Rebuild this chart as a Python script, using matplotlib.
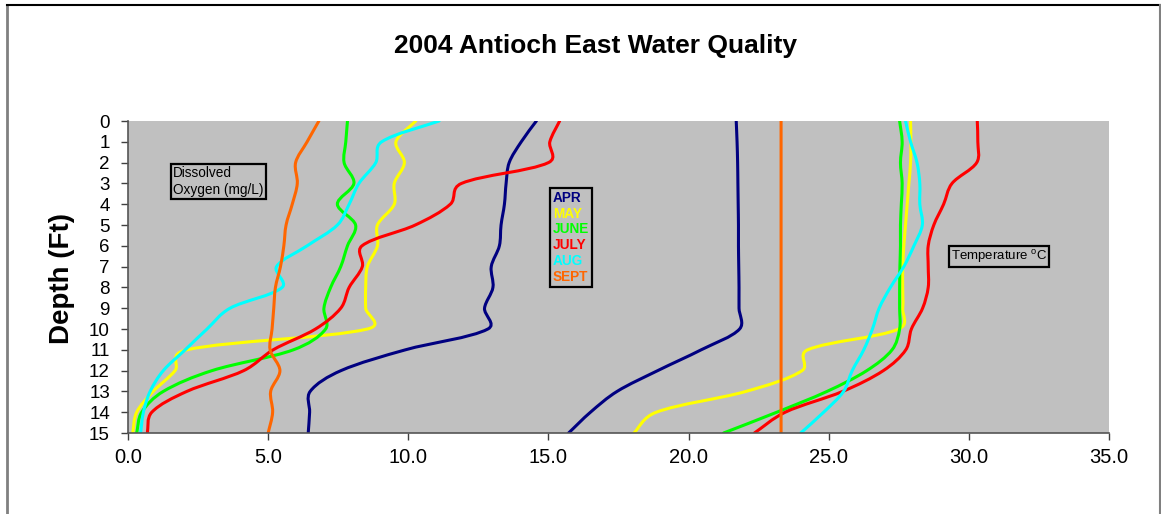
import numpy as np
import matplotlib
matplotlib.use("Agg")
import matplotlib.pyplot as plt
from matplotlib.path import Path
from matplotlib.patches import PathPatch
from matplotlib.lines import Line2D

plt.rcParams['font.family'] = ['Liberation Sans', 'DejaVu Sans']
plt.rcParams['mathtext.fontset'] = 'custom'
plt.rcParams['mathtext.rm'] = 'Liberation Sans'

# ---------------- data ----------------
depth = [0, 1, 2, 3, 4, 5, 6, 7, 8, 9, 10, 11, 12, 13, 14, 15]
months = ["APR", "MAY", "JUNE", "JULY", "AUG", "SEPT"]
colors = ["#000080", "#FFFF00", "#00FF00", "#FF0000", "#00FFFF", "#FF6600"]

do_apr  = [14.57, 14.03, 13.6, 13.49, 13.43, 13.31, 13.25, 12.96, 13.02, 12.72, 12.84, 9.9, 7.6, 6.5, 6.48, 6.43]
do_may  = [10.27, 9.56, 9.86, 9.5, 9.5, 8.9, 8.9, 8.54, 8.48, 8.48, 8.54, 2.1, 1.68, 0.9, 0.31, 0.17]
do_june = [7.83, 7.77, 7.71, 8.06, 7.47, 8.12, 7.83, 7.59, 7.23, 6.99, 7.05, 5.9, 3.0, 1.26, 0.49, 0.31]
do_july = [15.4, 15.05, 15.0, 11.9, 11.5, 10.25, 8.35, 8.36, 7.89, 7.59, 6.69, 5.18, 4.13, 2.1, 0.85, 0.69]
do_aug  = [11.1, 9.05, 8.84, 8.24, 7.89, 7.47, 6.39, 5.3, 5.5, 3.64, 2.82, 2.04, 1.26, 0.79, 0.55, 0.45]
do_sept = [6.81, 6.39, 5.98, 6.04, 5.86, 5.64, 5.56, 5.44, 5.26, 5.2, 5.14, 5.07, 5.42, 5.09, 5.16, 5.0]

t_apr  = [21.7, 21.73, 21.75, 21.76, 21.77, 21.78, 21.78, 21.79, 21.8, 21.8, 21.82, 20.45, 18.9, 17.45, 16.5, 15.72]
t_may  = [27.92, 27.93, 27.92, 27.86, 27.8, 27.74, 27.68, 27.64, 27.64, 27.64, 27.5, 24.25, 24.05, 22.05, 18.85, 18.05]
t_june = [27.53, 27.62, 27.56, 27.62, 27.59, 27.56, 27.56, 27.54, 27.53, 27.53, 27.53, 27.26, 26.36, 24.94, 23.15, 21.25]
t_july = [30.3, 30.32, 30.28, 29.4, 29.1, 28.75, 28.55, 28.55, 28.55, 28.35, 27.95, 27.75, 26.95, 25.5, 23.45, 22.35]
t_aug  = [27.74, 27.92, 28.15, 28.25, 28.25, 28.34, 28.04, 27.68, 27.2, 26.8, 26.56, 26.25, 25.84, 25.53, 24.82, 24.0]
t_sept = [23.3] * 16

do_series = [do_apr, do_may, do_june, do_july, do_aug, do_sept]
t_series = [t_apr, t_may, t_june, t_july, t_aug, t_sept]

x_ticks = [0, 5, 10, 15, 20, 25, 30, 35]
y_ticks = depth

# approximate screen scale (px per data unit) used for smoothing tangents
SX, SY = 28.0, 20.8


def smooth_path(xs, ys):
    """Smoothed line: cubic Bezier, tangents blended between uniform and chord-weighted."""
    pts = np.column_stack([np.asarray(xs, float) * SX, np.asarray(ys, float) * SY])
    n = len(pts)
    seg = np.linalg.norm(np.diff(pts, axis=0), axis=1)
    out_c, in_c = [], []
    for i in range(n):
        prev = pts[i - 1] if i > 0 else pts[i]
        nxt = pts[i + 1] if i < n - 1 else pts[i]
        T = nxt - prev
        d_in = seg[i - 1] if i > 0 else 0.0
        d_out = seg[i] if i < n - 1 else 0.0
        tot = d_in + d_out if (d_in + d_out) > 0 else 1.0
        w_out = 0.5 * (1 / 6.0) + 0.5 * (d_out / tot) / 3.0
        w_in = 0.5 * (1 / 6.0) + 0.5 * (d_in / tot) / 3.0
        out_c.append(pts[i] + T * w_out)
        in_c.append(pts[i] - T * w_in)
    verts = [pts[0]]
    codes = [Path.MOVETO]
    for i in range(n - 1):
        verts += [out_c[i], in_c[i + 1], pts[i + 1]]
        codes += [Path.CURVE4] * 3
    verts = np.array(verts) / np.array([SX, SY])
    return Path(verts, codes)


fig = plt.figure(figsize=(11.61, 5.14), dpi=100)
fig.patch.set_facecolor('white')
ax = fig.add_axes([128 / 1161, 1 - 433 / 514, (1109 - 128) / 1161, (433 - 121) / 514])
ax.set_facecolor('#C0C0C0')

for series, c in zip(do_series, colors):
    ax.add_patch(PathPatch(smooth_path(series, depth), fill=False, edgecolor=c, lw=2.2,
                           capstyle='round', joinstyle='round'))
for series, c in zip(t_series, colors):
    ax.add_patch(PathPatch(smooth_path(series, depth), fill=False, edgecolor=c, lw=2.2,
                           capstyle='round', joinstyle='round'))

ax.set_xlim(0, 35)
ax.set_ylim(15, 0)
ax.set_xticks(x_ticks)
ax.set_xticklabels([f"{v:.1f}" for v in x_ticks])
ax.set_yticks(y_ticks)
ax.set_yticklabels([str(v) for v in y_ticks])
ax.tick_params(axis='x', labelsize=14.5, length=5, width=1, color='#404040', pad=6)
ax.tick_params(axis='y', labelsize=13.5, length=5, width=1, color='#404040', pad=8)
for s in ['top', 'right']:
    ax.spines[s].set_visible(False)
for s in ['left', 'bottom']:
    ax.spines[s].set_color('#555555')
    ax.spines[s].set_linewidth(1.2)

# legend
handles = [Line2D([], [], color=c) for c in colors]
leg = ax.legend(handles, months, loc='upper left', bbox_to_anchor=(0.430, 0.786),
                handlelength=0, handletextpad=0, labelcolor=colors,
                prop={'family': 'Liberation Sans', 'weight': 'bold', 'size': 9.8},
                frameon=True, fancybox=False, edgecolor='black', facecolor='#C0C0C0',
                framealpha=1, borderpad=0.22, labelspacing=0.13, borderaxespad=0)
leg.get_frame().set_linewidth(1.6)

# text boxes
ax.text(0.046, 0.856, "Dissolved\nOxygen (mg/L)", transform=ax.transAxes, fontsize=9.8,
        ha='left', va='top', linespacing=1.3,
        bbox=dict(boxstyle='square,pad=0.15', facecolor='#C0C0C0', edgecolor='black', lw=1.6))
ax.text(0.839, 0.567, "Temperature $^{\\mathrm{o}}$C", transform=ax.transAxes, fontsize=9.5,
        ha='left', va='center',
        bbox=dict(boxstyle='square,pad=0.15', facecolor='#C0C0C0', edgecolor='black', lw=1.6))

fig.text(595 / 1161, 1 - 46 / 514, "2004 Antioch East Water Quality", fontsize=19,
         fontweight='bold', ha='center', va='center')
fig.text(62 / 1161, 1 - 278 / 514, "Depth (Ft)", fontsize=20, fontweight='bold',
         rotation=90, ha='center', va='center')

# outer frame
fig.add_artist(Line2D([7 / 1161, 7 / 1161], [0, 1 - 5 / 514], transform=fig.transFigure,
                      color='#808080', lw=2))
fig.add_artist(Line2D([7 / 1161, 1], [1 - 5 / 514, 1 - 5 / 514], transform=fig.transFigure,
                      color='black', lw=1.5))
fig.add_artist(Line2D([1159.5 / 1161, 1159.5 / 1161], [0, 1 - 5 / 514], transform=fig.transFigure,
                      color='#808080', lw=1.5))

fig.savefig("out.png", dpi=100)
